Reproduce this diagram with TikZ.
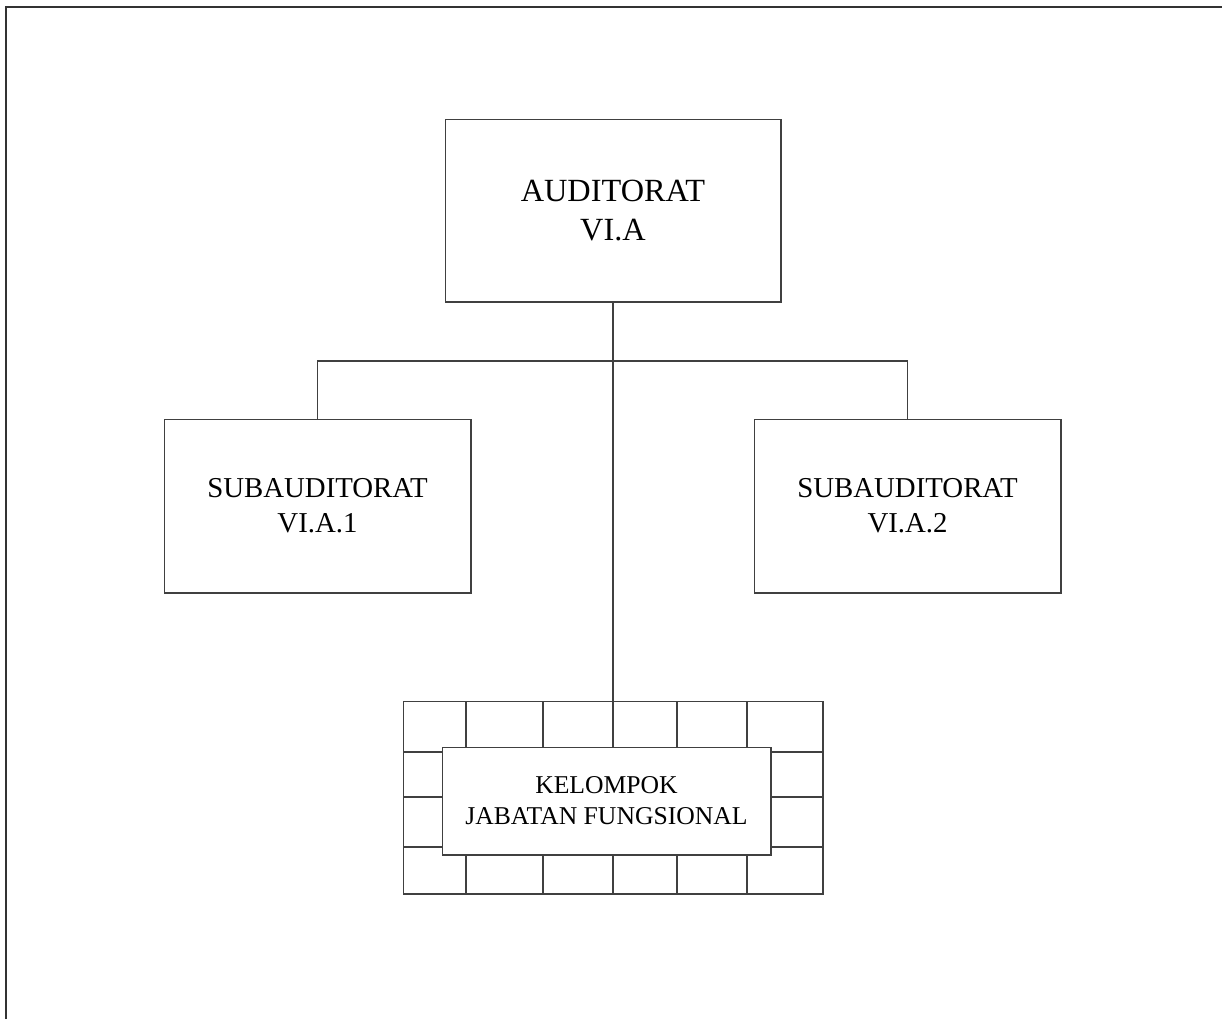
\documentclass[tikz,border=0pt]{standalone}
\usepackage{fontspec}
\setmainfont{Liberation Serif}
\usepackage{tikz}
\usetikzlibrary{positioning}

\begin{document}
\begin{tikzpicture}[x=0.02cm,y=-0.02cm,
        orgline/.style={draw=black!75,line width=0.6pt},
        orgbox/.style={orgline,rectangle,inner sep=0pt,align=center},
        bigfont/.style={font=\fontsize{18.4}{21.8}\selectfont},
        subfont/.style={font=\fontsize{16.4}{20}\selectfont},
        smallfont/.style={font=\fontsize{14.6}{17.7}\selectfont}]
        \useasboundingbox (0,0) rectangle (1222,1019);
        % frame
        \draw[black!80,line width=1.1pt] (6,1019) -- (6,7) -- (1222,7);
        % boxes
        \node[orgbox,bigfont,minimum width=6.72cm,minimum height=3.66cm] (auditorat) at (613,210.5) {AUDITORAT\\VI.A};
        \node[orgbox,subfont,minimum width=6.14cm,minimum height=3.48cm] (sub1) at (317.5,506) {SUBAUDITORAT\\VI.A.1};
        \node[orgbox,subfont,minimum width=6.14cm,minimum height=3.48cm] (sub2) at (907.5,506) {SUBAUDITORAT\\VI.A.2};
        \node[orgbox,minimum width=8.4cm,minimum height=3.86cm] (grid) at (613,797.5) {};
        % grid lines
        \foreach \gx in {466,543,613,677,747}
            \draw[orgline] (\gx,701) -- (\gx,894);
        \foreach \gy in {752,797,847}
            \draw[orgline] (403,\gy) -- (823,\gy);
        \node[orgbox,smallfont,fill=white,minimum width=6.58cm,minimum height=2.16cm] (kelompok) at (606.5,801) {KELOMPOK\\JABATAN FUNGSIONAL};
        % connectors
        \coordinate (bus) at (613,361);
        \draw[orgline] (auditorat.south) -- (grid.north);
        \draw[orgline] (sub1.north) |- (bus) -| (sub2.north);
    \end{tikzpicture}
\end{document}
